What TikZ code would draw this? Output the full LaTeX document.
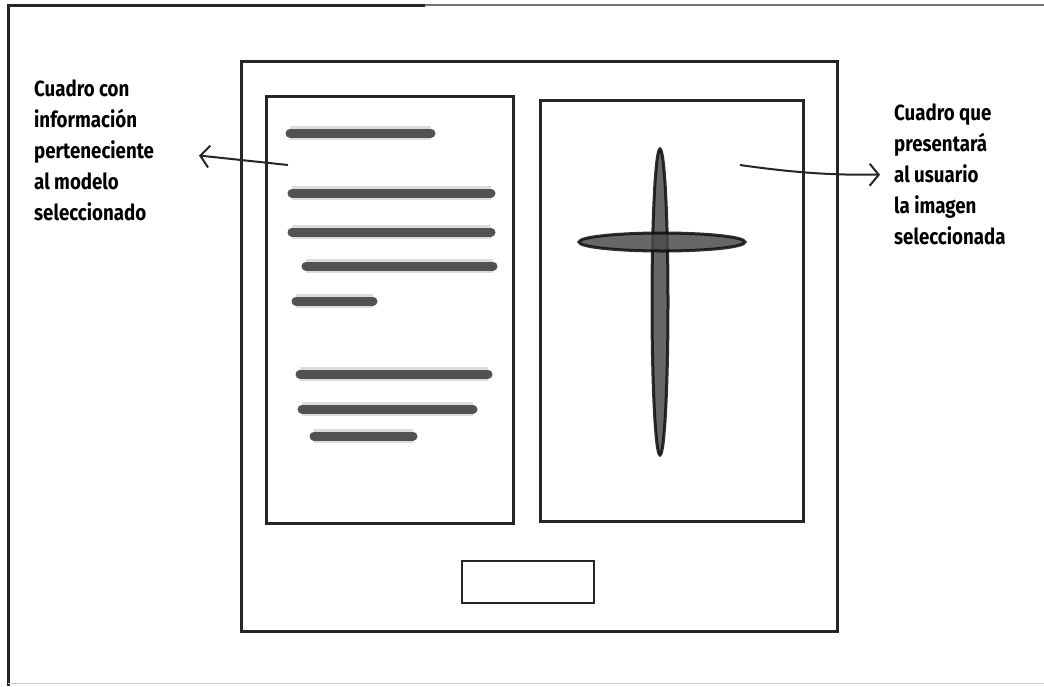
\documentclass[tikz,border=0pt]{standalone}
\usepackage{fontspec}
\setmainfont{Fira Sans}[FakeStretch=0.85]
\usetikzlibrary{arrows.meta, positioning, calc, fit}

\tikzset{
  panel/.style={draw=black!85, line width=2.6pt},
  textbar/.style={line width=9pt, line cap=round, draw=black!68,
    preaction={draw=black!45, line width=14pt, opacity=0.3}},
  blob/.style={fill=black!70, draw=black!95, line width=3pt, opacity=0.85},
  note/.style={font=\bfseries\fontsize{22}{31}\selectfont, align=left, inner sep=0pt, anchor=north west},
  pointer/.style={line width=2pt, black!85, -{Straight Barb[length=9pt,width=22pt,line width=2pt]}}
}

\begin{document}
\begin{tikzpicture}[x=1pt, y=-1pt]
\useasboundingbox (0,0) rectangle (1044,686);
% marco de la hoja
\draw[line width=2pt, black!55] (425,5) -- (1044,5);
\draw[line width=3pt, black!85] (425,5) -- (8,5) -- (8,686);
\draw[line width=1pt, black!20] (8,683) -- (1044,683);

% ventana y cuadros
\node[panel, minimum width=596, minimum height=570, anchor=north west] (ventana) at (240,60) {};
\node[panel, minimum width=247, minimum height=427, anchor=north west] (cuadroinfo) at (265,95) {};
\node[panel, minimum width=263, minimum height=421, anchor=north west] (cuadroimg) at (539,99) {};
\node[panel, line width=2.2pt, minimum width=132, minimum height=42, anchor=north west] (boton) at (461,560) {};

% lineas de texto
\foreach \xa/\xb/\yy in {290/431/133, 292/491/193, 292/491/232, 306/493/266, 296/373/301,
                         300/488/374, 302/473/409, 314/413/436}
  \draw[textbar] (\xa,\yy) -- (\xb,\yy);

% imagen (cruz)
\fill[blob] (660,302) ellipse [x radius=8, y radius=153];
\fill[blob] (662,242) ellipse [x radius=83, y radius=9];

% notas
\node[note] (notaizq) at (34,80) {Cuadro con\\información\\perteneciente\\al modelo\\seleccionado};
\node[note] (notader) at (894,104) {Cuadro que\\presentará\\al usuario\\la imagen\\seleccionada};

\coordinate (desdeizq) at (288,165);
\coordinate (desdeder) at (740,165);
\draw[pointer, shorten >=45pt] (desdeizq) -- (notaizq.east);
\draw[pointer, shorten >=14pt] (desdeder) .. controls +(70,10) and +(-50,0) .. (notader.west);
\end{tikzpicture}
\end{document}
